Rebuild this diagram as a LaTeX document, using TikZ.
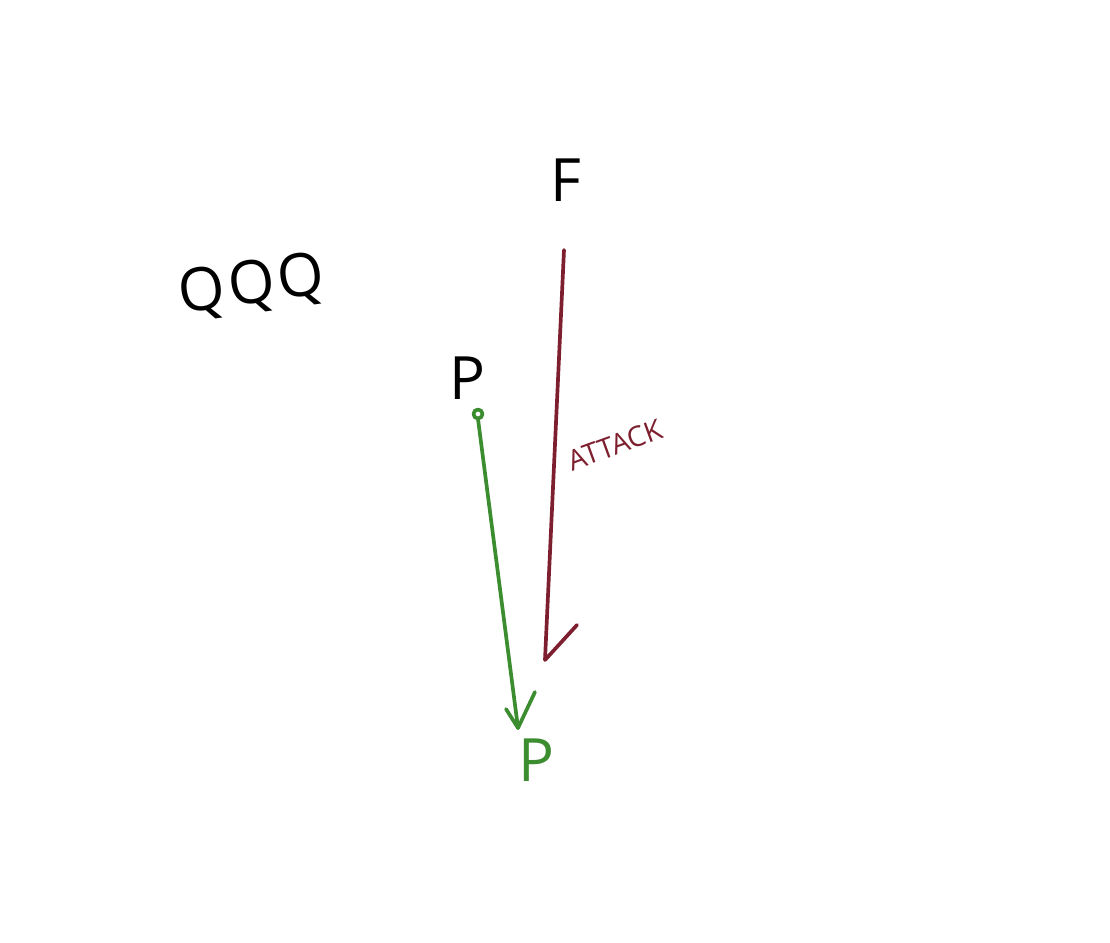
\documentclass[tikz,border=0pt]{standalone}
\usepackage{fontspec}
\setmainfont{Open Sans}
\definecolor{attackred}{HTML}{7D1F2E}
\definecolor{movegreen}{HTML}{3C8C30}
\begin{document}
\begin{tikzpicture}[x=0.02cm,y=-0.02cm,
  lbl/.style={inner sep=0pt, font=\fontsize{34}{36}\selectfont},
  redline/.style={draw=attackred, line width=2.1pt, line cap=round, line join=round},
  greenline/.style={draw=movegreen, line width=2.1pt, line cap=round, line join=round}]
\useasboundingbox (0,0) rectangle (1110,943);
\node[lbl] (F) at (566,180) {F};
\node[lbl, rotate=8] (Q) at (252,287) {Q\kern2pt Q\kern2pt Q};
\node[lbl] (P1) at (467,378) {P};
\node[lbl, text=movegreen] (P2) at (536,760) {P};
\node[inner sep=0pt, text=attackred, rotate=20, font=\fontsize{16}{17}\selectfont] (atk) at (615,445) {ATTACK};
% green move arrow
\coordinate (gs) at (478,419);
\coordinate (gt) at (518,728);
\coordinate (gl) at (506,709);
\coordinate (gr) at (535,692);
\draw[greenline] (478,414) circle (4.5);
\draw[greenline] (gs) -- (gt);
\draw[greenline] (gl) -- (gt) -- (gr);
% red attack arrow
\coordinate (rs) at (564,250);
\coordinate (rt) at (545,660);
\coordinate (rb) at (577,625);
\draw[redline] (rs) -- (rt) -- (rb);
\end{tikzpicture}
\end{document}
